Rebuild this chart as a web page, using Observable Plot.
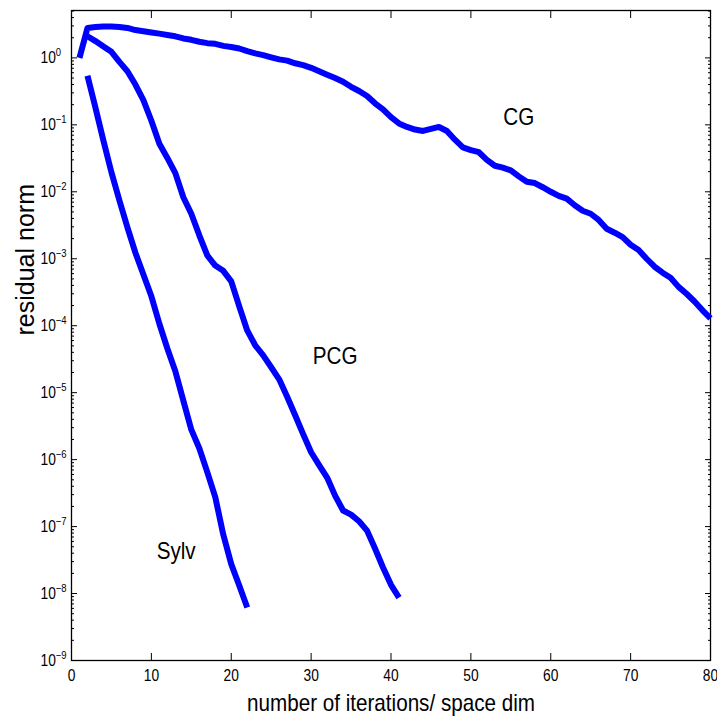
<!DOCTYPE html>
<html><head><meta charset="utf-8">
<script src="https://cdn.jsdelivr.net/npm/d3@7"></script>
<script src="https://cdn.jsdelivr.net/npm/@observablehq/plot@0.6"></script>
<style>html,body{margin:0;padding:0;background:#fff;} svg{display:block;}</style>
</head><body><div id="chart"></div>
<script>
// Residual norm per iteration
const cgStart = 1;
const cgValues = [1.0, 2.8, 2.9, 2.95, 2.95, 2.9, 2.8, 2.6, 2.5, 2.4,
  2.3, 2.2, 2.1, 1.95, 1.86, 1.74, 1.66, 1.62, 1.51, 1.45,
  1.38, 1.26, 1.17, 1.10, 1.02, 0.95, 0.91, 0.83, 0.78, 0.71,
  0.63, 0.56, 0.50, 0.44, 0.37, 0.32, 0.27, 0.21, 0.17, 0.13,
  0.105, 0.093, 0.085, 0.081, 0.087, 0.093, 0.081, 0.060, 0.046, 0.042,
  0.039, 0.030, 0.0245, 0.0229, 0.0209, 0.0170, 0.0141, 0.0135, 0.0117, 0.0100,
  0.0087, 0.0079, 0.0063, 0.0052, 0.0047, 0.0038, 0.0028, 0.00245, 0.0021, 0.00162,
  0.00135, 0.00100, 0.00076, 0.00062, 0.00052, 0.00038, 0.00030, 0.00023, 0.00017, 0.000129];

const pcgStart = 2;
const pcgValues = [2.1, 1.78, 1.48, 1.23, 0.87, 0.63, 0.40, 0.234, 0.115, 0.052,
  0.032, 0.019, 0.0083, 0.0047, 0.00224, 0.00112, 0.00079, 0.00066, 0.00046, 0.000195,
  8.5e-5, 5.1e-5, 3.6e-5, 2.4e-5, 1.58e-5, 8.7e-6, 4.6e-6, 2.4e-6, 1.29e-6, 8.3e-7,
  5.4e-7, 2.9e-7, 1.74e-7, 1.51e-7, 1.2e-7, 8.7e-8, 4.7e-8, 2.45e-8, 1.35e-8, 8.7e-9];

const sylvStart = 2;
const sylvValues = [0.54, 0.18, 0.058, 0.0195, 0.0074, 0.00295, 0.00123, 0.00058, 0.000275, 0.000107,
  4.57e-5, 2.09e-5, 7.6e-6, 2.8e-6, 1.48e-6, 6.5e-7, 2.75e-7, 7.6e-8, 2.75e-8, 1.32e-8, 6.2e-9];

const seriesNames = ["CG", "PCG", "Sylv"];
const labelX = [56, 33, 13.1];
const labelY = [0.128, 3.5e-5, 4.2e-8];

const xTicks = [0, 10, 20, 30, 40, 50, 60, 70, 80];
const yTicks = [1e-9, 1e-8, 1e-7, 1e-6, 1e-5, 1e-4, 1e-3, 1e-2, 1e-1, 1];
const yMinorMultipliers = [2, 3, 4, 5, 6, 7, 8, 9];

const xTitle = "number of iterations/ space dim";
const yTitle = "residual norm";

// Build table
const rows = [];
[[cgStart, cgValues, "CG"], [pcgStart, pcgValues, "PCG"], [sylvStart, sylvValues, "Sylv"]]
  .forEach(([s, vals, name]) => vals.forEach((v, i) => rows.push({iter: s + i, res: v, series: name})));

const yMax = 5.1;
const yMinor = [];
yTicks.forEach(d => yMinorMultipliers.forEach(m => { const v = d * m; if (v <= yMax) yMinor.push(v); }));

const labels = seriesNames.map((n, i) => ({name: n, x: labelX[i], y: labelY[i]}));

const fmt = d => "10^" + Math.round(Math.log10(d));
const blank = () => "";
const tk = {stroke: "black", strokeWidth: 1};

const chart = Plot.plot({
  width: 717,
  height: 717,
  marginLeft: 71,
  marginRight: 7,
  marginTop: 10,
  marginBottom: 57,
  style: {fontFamily: "'Liberation Sans', Arial, Helvetica, sans-serif", background: "white", color: "black"},
  x: {domain: [0, 80], label: null},
  y: {type: "log", domain: [1e-9, yMax], label: null},
  marks: [
    // tick labels
    Plot.axisX({anchor: "bottom", ticks: xTicks, tickSize: 0, tickPadding: 9, fontSize: 16, tickFormat: d => String(d)}),
    Plot.axisY({anchor: "left", ticks: yTicks, tickSize: 0, tickPadding: 31, textAnchor: "start", fontSize: 16, tickFormat: fmt}),
    // inward ticks on all four sides
    Plot.axisX({anchor: "bottom", ticks: xTicks, tickSize: -7, tickFormat: blank, ...tk}),
    Plot.axisX({anchor: "top", ticks: xTicks, tickSize: -7, tickFormat: blank, ...tk}),
    Plot.axisY({anchor: "left", ticks: yTicks, tickSize: -6, tickFormat: blank, ...tk}),
    Plot.axisY({anchor: "right", ticks: yTicks, tickSize: -6, tickFormat: blank, ...tk}),
    Plot.axisY({anchor: "left", ticks: yMinor, tickSize: -3, tickFormat: blank, ...tk}),
    Plot.axisY({anchor: "right", ticks: yMinor, tickSize: -3, tickFormat: blank, ...tk}),
    Plot.frame({stroke: "black", strokeWidth: 1.3}),
    // lines
    Plot.line(rows, {x: "iter", y: "res", z: "series", stroke: "#0000ff", strokeWidth: 6, strokeLinejoin: "round", strokeLinecap: "butt"}),
    // series labels
    Plot.text(labels, {x: "x", y: "y", text: "name", fontSize: 24, textAnchor: "middle", lineAnchor: "middle", fill: "black"}),
    // axis titles
    Plot.text([xTitle], {text: d => d, frameAnchor: "bottom", dy: 43, fontSize: 24, lineAnchor: "middle", fill: "black"}),
    Plot.text([yTitle], {text: d => d, frameAnchor: "left", dx: -46, rotate: -90, fontSize: 25, lineAnchor: "middle", fill: "black"})
  ]
});

// remove the empty label texts of tick-only axes
d3.select(chart).selectAll("text").filter(function() { return this.textContent === ""; }).remove();

// superscript exponents on the log tick labels
d3.select(chart).selectAll("text").each(function() {
  const t = this;
  const m = /^10\^(-?\d+)$/.exec(t.textContent);
  if (!m) return;
  const e = m[1].replace("-", "\u2212");
  t.textContent = "";
  const base = document.createElementNS("http://www.w3.org/2000/svg", "tspan");
  base.textContent = "10";
  const sup = document.createElementNS("http://www.w3.org/2000/svg", "tspan");
  sup.textContent = e;
  sup.setAttribute("font-size", "11");
  sup.setAttribute("dy", "-7");
  t.appendChild(base);
  t.appendChild(sup);
});

document.getElementById("chart").appendChild(chart);

// narrow the lettering horizontally like the reference
const squeeze = 0.86;
d3.select(chart).selectAll("text").each(function() {
  const t = this;
  const tr = t.getAttribute("transform") || "";
  if (/rotate/.test(tr)) return;
  if (!t.textContent) return;
  const spans = t.querySelectorAll("tspan");
  if (spans.length) {
    spans.forEach(s => {
      const len = s.getComputedTextLength();
      if (len > 0) { s.setAttribute("textLength", (len * squeeze).toFixed(2)); s.setAttribute("lengthAdjust", "spacingAndGlyphs"); }
    });
  } else {
    const len = t.getComputedTextLength();
    if (len > 0) { t.setAttribute("textLength", (len * squeeze).toFixed(2)); t.setAttribute("lengthAdjust", "spacingAndGlyphs"); }
  }
});
</script>
</body></html>
